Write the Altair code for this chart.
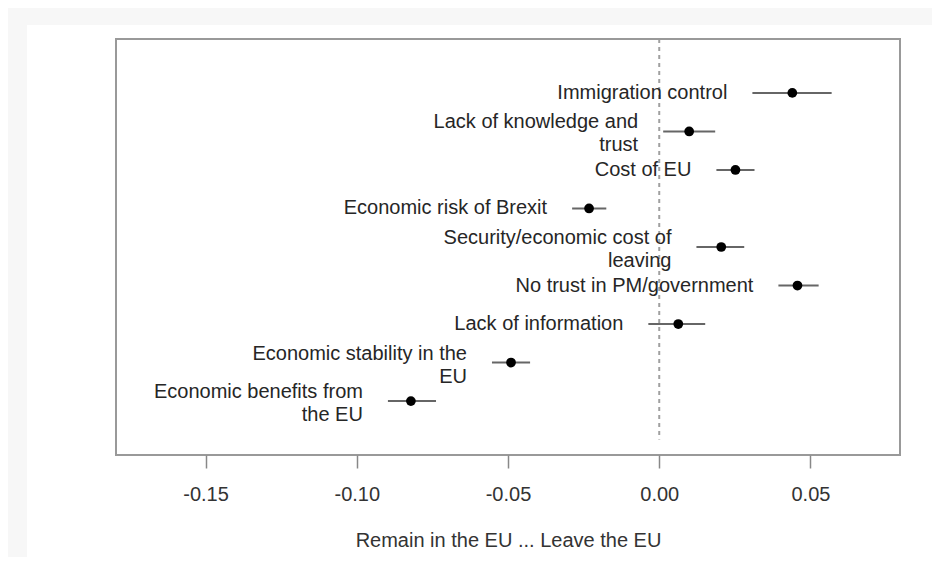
import altair as alt
import pandas as pd

labels = [
    "Immigration control",
    "Lack of knowledge and\ntrust",
    "Cost of EU",
    "Economic risk of Brexit",
    "Security/economic cost of\nleaving",
    "No trust in PM/government",
    "Lack of information",
    "Economic stability in the\nEU",
    "Economic benefits from\nthe EU",
]
estimate = [0.0440, 0.0099, 0.0252, -0.0232, 0.0205, 0.0457, 0.0063, -0.0490, -0.0821]
lower = [0.0308, 0.0013, 0.0189, -0.0288, 0.0123, 0.0394, -0.0036, -0.0553, -0.0897]
upper = [0.0570, 0.0185, 0.0315, -0.0175, 0.0281, 0.0527, 0.0152, -0.0427, -0.0738]
position = list(range(1, len(labels) + 1))
x_ticks = [-0.15, -0.10, -0.05, 0.00, 0.05]

df = pd.DataFrame({"label": labels, "est": estimate, "lo": lower, "hi": upper, "pos": position})
ref = pd.DataFrame({"x": [0.0], "y0": [-0.4], "y1": [10.0]})

FONT = "Liberation Sans"
W, H = 784, 416

xscale = alt.Scale(domain=[-0.1796, 0.0796], nice=False, zero=False)
yscale = alt.Scale(domain=[-0.4, 10.4], reverse=True, nice=False, zero=False)

base = alt.Chart(df)

white = alt.Chart(ref).mark_rect(fill="white", stroke=None).encode(
    x=alt.value(-89), x2=alt.value(816), y=alt.value(-14), y2=alt.value(518)
)

frame = alt.Chart(ref).mark_rect(fill=None, stroke="#999999", strokeWidth=2).encode(
    x=alt.value(0), x2=alt.value(W), y=alt.value(0), y2=alt.value(H)
)

refline = alt.Chart(ref).mark_rule(color="#a0a0a0", strokeWidth=2, strokeDash=[4, 4]).encode(
    x=alt.X("x:Q", scale=xscale,
            axis=alt.Axis(values=x_ticks,
                          labelExpr="(datum.value < 0 ? '-' : '') + format(abs(datum.value), '.2f')",
                          title="Remain in the EU ... Leave the EU",
                          labelFontSize=20, labelFont=FONT, labelColor="#333333",
                          titleFontSize=20, titleFont=FONT, titleColor="#333333", titleFontWeight="normal",
                          tickSize=13, tickColor="#888888", tickWidth=1.5, labelPadding=16,
                          titlePadding=26, domain=False, grid=False, zindex=2)),
    y=alt.Y("y0:Q", scale=yscale, axis=None),
    y2="y1:Q",
)

bars = base.mark_rule(color="#666666", strokeWidth=2).encode(
    x=alt.X("lo:Q", scale=xscale), x2="hi:Q",
    y=alt.Y("pos:Q", scale=yscale, axis=None),
)

dots = base.mark_circle(size=95, color="black", opacity=1).encode(
    x=alt.X("est:Q", scale=xscale),
    y=alt.Y("pos:Q", scale=yscale, axis=None),
)

text_enc = dict(
    x=alt.X("lo:Q", scale=xscale),
    y=alt.Y("pos:Q", scale=yscale, axis=None),
    text="label:N",
)
text_style = dict(align="right", baseline="middle", dx=-25, fontSize=20, font=FONT,
                  color="#262626", lineBreak="\n", lineHeight=23)

texts_single = base.transform_filter("indexof(datum.label, '\\n') < 0").mark_text(
    **text_style).encode(**text_enc)
texts_multi = base.transform_filter("indexof(datum.label, '\\n') >= 0").mark_text(
    dy=-9, **text_style).encode(**text_enc)

chart = alt.layer(white, refline, bars, dots, texts_single, texts_multi, frame).properties(
    width=W, height=H,
    autosize=alt.AutoSizeParams(type="none"),
    padding={"left": 108, "top": 31, "right": 32, "bottom": 102},
    background="#f7f7f7",
).configure_view(stroke=None)

chart.save("out.html", embed_options={"renderer": "svg", "actions": False})
